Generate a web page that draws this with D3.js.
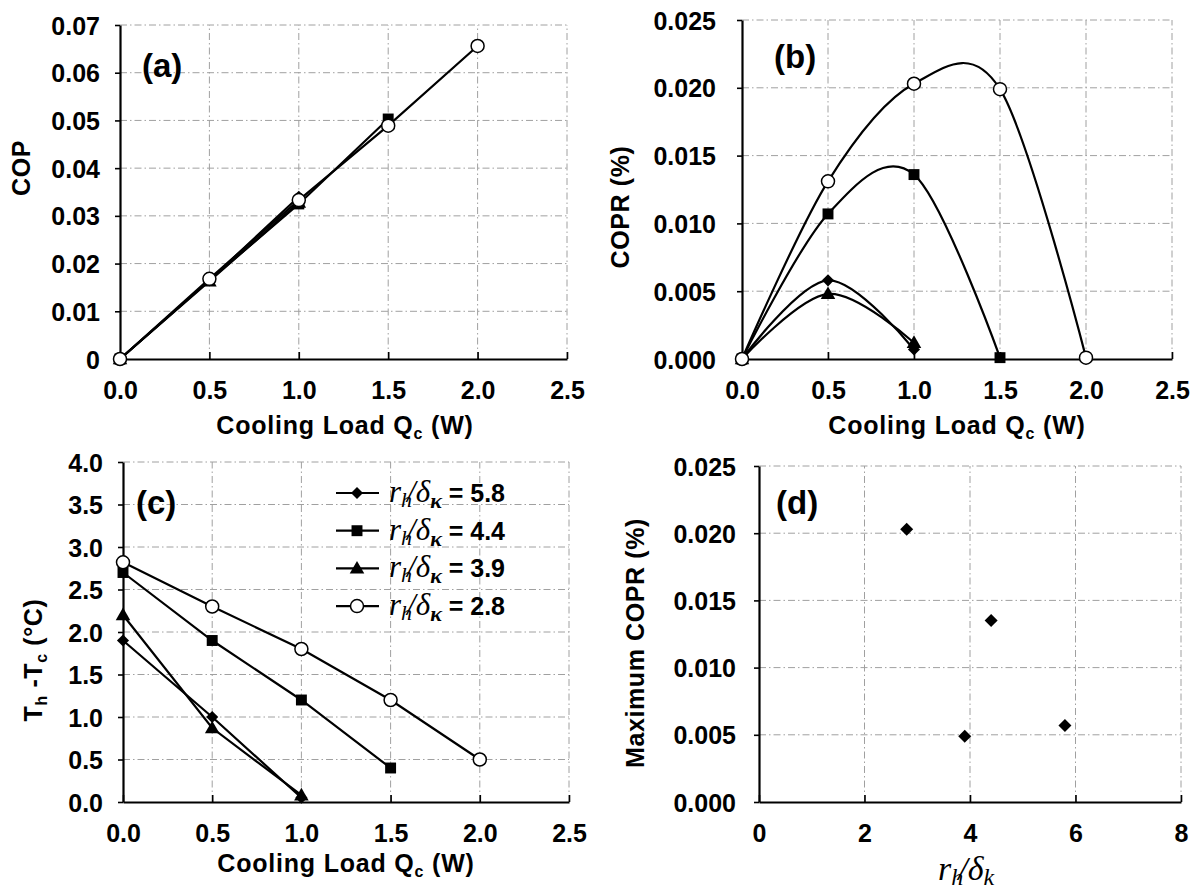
<!DOCTYPE html>
<html>
<head>
<meta charset="utf-8">
<script src="https://cdn.jsdelivr.net/npm/d3@7"></script>
<style>
  body { margin: 0; background: #fff; }
  svg { display: block; font-family: "Liberation Sans", Arial, sans-serif; font-weight: bold; }
</style>
</head>
<body>
<svg id="chart" width="1194" height="893"></svg>
<script>
// series order follows the legend: 5.8, 4.4, 3.9, 2.8
var ratioLabels = ["5.8", "4.4", "3.9", "2.8"];
var markerShapes = ["diamond", "square", "triangle", "circle"];
var qcLoads = [[0, 0.5, 1.0], [0, 0.5, 1.0, 1.5], [0, 0.5, 1.0], [0, 0.5, 1.0, 1.5, 2.0]];
var copValues = [[0, 0.0165, 0.034], [0, 0.0165, 0.0325, 0.0503], [0, 0.0163, 0.0328], [0, 0.0168, 0.0333, 0.0489, 0.0656]];
var coprValues = [[0, 0.0058, 0.0007], [0, 0.0107, 0.0136, 0.0001], [0, 0.0048, 0.0012], [0, 0.0131, 0.0203, 0.0199, 0.0001]];
var dTValues = [[1.9, 1.0, 0.05], [2.7, 1.9, 1.2, 0.4], [2.2, 0.87, 0.08], [2.82, 2.3, 1.8, 1.2, 0.5]];
var ratioValues = [5.8, 4.4, 3.9, 2.8];
var maxCopr = [0.0057, 0.0135, 0.0049, 0.0203];

var qcTicks = [0, 0.5, 1.0, 1.5, 2.0, 2.5];
var copTicks = [0, 0.01, 0.02, 0.03, 0.04, 0.05, 0.06, 0.07];
var coprTicks = [0, 0.005, 0.01, 0.015, 0.02, 0.025];
var dTTicks = [0, 0.5, 1.0, 1.5, 2.0, 2.5, 3.0, 3.5, 4.0];
var ratioTicks = [0, 2, 4, 6, 8];

var svg = d3.select("#chart");
var serif = "Liberation Serif, Times New Roman, serif";

function marker(g, shape, x, y, s) {
  if (shape == "circle") {
    g.append("circle").attr("cx", x).attr("cy", y).attr("r", s * 0.5)
      .attr("fill", "#fff").attr("stroke", "#000").attr("stroke-width", 1.5);
  } else {
    var sym = shape == "diamond" ? d3.symbolDiamond2 : shape == "square" ? d3.symbolSquare2 : d3.symbolTriangle2;
    var size = shape == "diamond" ? s * s * 0.55 : s * s * 0.9;
    g.append("path").attr("d", d3.symbol().type(sym).size(size)())
      .attr("transform", "translate(" + x + "," + (shape == "triangle" ? y + 1 : y) + ")")
      .attr("fill", "#000");
  }
}

function panel(p) {
  var x = d3.scaleLinear().domain(p.xDom).range(p.xr);
  var y = d3.scaleLinear().domain(p.yDom).range(p.yr);
  var g = svg.append("g");

  // grid, dash-dot grey
  g.append("g").selectAll("line").data(p.xTicks.slice(1)).enter().append("line")
    .attr("x1", d => x(d)).attr("x2", d => x(d)).attr("y1", p.yr[0]).attr("y2", p.yr[1])
    .attr("stroke", "#a0a0a0").attr("stroke-width", 1).attr("stroke-dasharray", "7,3,1.5,3");
  g.append("g").selectAll("line").data(p.yTicks.slice(1)).enter().append("line")
    .attr("x1", p.xr[0]).attr("x2", p.xr[1]).attr("y1", d => y(d)).attr("y2", d => y(d))
    .attr("stroke", "#a0a0a0").attr("stroke-width", 1).attr("stroke-dasharray", "7,3,1.5,3");

  var xa = g.append("g").attr("transform", "translate(0," + p.yr[0] + ")")
    .call(d3.axisBottom(x).tickValues(p.xTicks).tickFormat(p.xFmt).tickSizeInner(-7).tickSizeOuter(0).tickPadding(22));
  var ya = g.append("g").attr("transform", "translate(" + p.xr[0] + ",0)")
    .call(d3.axisLeft(y).tickValues(p.yTicks).tickFormat(p.yFmt).tickSizeInner(5).tickSizeOuter(0).tickPadding(p.yPad));
  [xa, ya].forEach(function(a) {
    a.select(".domain").attr("stroke", "#000").attr("stroke-width", 2.2);
    a.selectAll(".tick line").attr("stroke", "#000").attr("stroke-width", 1.6);
    a.selectAll("text").attr("fill", "#000").style("font-size", "25px")
      .style("font-family", "Liberation Sans, Arial, sans-serif").style("font-weight", "bold");
  });
  ya.selectAll("text").attr("dy", "0.36em");

  // panel label
  g.append("text").attr("x", p.lab[0]).attr("y", p.lab[1]).text(p.label)
    .style("font-size", "33px");

  return {g: g, x: x, y: y};
}

function xTitleQc(cx, cy) {
  var t = svg.append("text").attr("x", cx).attr("y", cy).attr("text-anchor", "middle")
    .style("font-size", "25px").style("letter-spacing", "0.8px");
  t.append("tspan").text("Cooling Load Q");
  t.append("tspan").text("c").attr("dy", 5).style("font-size", "16px");
  t.append("tspan").text(" (W)").attr("dy", -5);
}

function yTitle(cx, cy, parts) {
  var t = svg.append("text").attr("transform", "translate(" + cx + "," + cy + ") rotate(-90)")
    .attr("text-anchor", "middle").attr("dy", "0.36em").style("font-size", "25px").style("letter-spacing", "0.6px");
  parts.forEach(function(pt) {
    var s = t.append("tspan").text(pt[0]);
    if (pt[1]) s.attr("dy", pt[1]);
    if (pt[2]) s.style("font-size", pt[2]);
  });
}

function series(pn, xs, ys, smooth) {
  var line = d3.line().x(d => pn.x(d[0])).y(d => pn.y(d[1]))
    .curve(smooth ? d3.curveCardinal.tension(0) : d3.curveLinear);
  xs.forEach(function(xv, i) {
    var pts = xv.map((v, j) => [v, ys[i][j]]);
    pn.g.append("path").datum(pts).attr("d", line).attr("fill", "none")
      .attr("stroke", "#000").attr("stroke-width", 2.2);
  });
  xs.forEach(function(xv, i) {
    xv.forEach(function(v, j) {
      marker(pn.g, markerShapes[i], pn.x(v), pn.y(ys[i][j]), 13);
    });
  });
}

var f1 = d3.format(".1f"), f3 = d3.format(".3f");

// (a)
var pa = panel({xDom: [0, 2.5], yDom: [0, 0.07], xr: [120, 567], yr: [359, 25],
  xTicks: qcTicks, yTicks: copTicks, xFmt: f1, yFmt: d => d == 0 ? "0" : d3.format(".2f")(d),
  yPad: 15, label: "(a)", lab: [142, 77]});
series(pa, qcLoads, copValues, false);
xTitleQc(345, 434);
yTitle(21, 168, [["COP"]]);

// (b)
var pb = panel({xDom: [0, 2.5], yDom: [0, 0.025], xr: [742, 1172], yr: [359, 20],
  xTicks: qcTicks, yTicks: coprTicks, xFmt: f1, yFmt: f3,
  yPad: 21, label: "(b)", lab: [774, 68]});
series(pb, qcLoads, coprValues, true);
xTitleQc(957, 434);
yTitle(620, 207, [["COPR (%)"]]);

// (c)
var pc = panel({xDom: [0, 2.5], yDom: [0, 4], xr: [123, 569], yr: [802, 462],
  xTicks: qcTicks, yTicks: dTTicks, xFmt: f1, yFmt: f1,
  yPad: 15, label: "(c)", lab: [136, 514]});
series(pc, qcLoads, dTValues, false);
xTitleQc(346, 872);
yTitle(33, 660, [["T"], ["h", 5, "16px"], [" -T", -5], ["c", 5, "16px"], [" (°C)", -5]]);

// legend in (c)
ratioLabels.forEach(function(lbl, i) {
  var cy = 493 + i * 37.7;
  pc.g.append("line").attr("x1", 336).attr("x2", 379).attr("y1", cy).attr("y2", cy)
    .attr("stroke", "#000").attr("stroke-width", 2.2);
  marker(pc.g, markerShapes[i], 357, cy, 13);
  var t = pc.g.append("text").attr("x", 389).attr("y", cy + 9)
    .style("font-family", serif).style("font-style", "italic").style("font-weight", "normal");
  t.append("tspan").text("r").style("font-size", "31px");
  t.append("tspan").text("h").attr("dy", 5).style("font-size", "22px");
  t.append("tspan").text("/").attr("dx", -5).attr("dy", -5).style("font-size", "31px");
  t.append("tspan").text("δ").style("font-size", "31px");
  t.append("tspan").text("κ").attr("dy", 6).style("font-size", "22px").style("font-weight", "bold");
  t.append("tspan").text(" = " + lbl).attr("dy", -6).style("font-size", "25px")
    .style("font-family", "Liberation Sans, Arial, sans-serif").style("font-style", "normal").style("font-weight", "bold");
});

// (d)
var pd = panel({xDom: [0, 8], yDom: [0, 0.025], xr: [759, 1181], yr: [802, 466],
  xTicks: ratioTicks, yTicks: coprTicks, xFmt: d3.format("d"), yFmt: f3,
  yPad: 18, label: "(d)", lab: [776, 514]});
ratioValues.forEach(function(r, i) {
  marker(pd.g, "diamond", pd.x(r), pd.y(maxCopr[i]), 14);
});
yTitle(635, 643, [["Maximum COPR (%)"]]);
var td = svg.append("text").attr("x", 938).attr("y", 880)
  .style("font-family", serif).style("font-style", "italic").style("font-weight", "normal");
td.append("tspan").text("r").style("font-size", "34px");
td.append("tspan").text("h").attr("dy", 5).style("font-size", "24px");
td.append("tspan").text("/").attr("dx", -5).attr("dy", -5).style("font-size", "34px");
td.append("tspan").text("δ").style("font-size", "34px");
td.append("tspan").text("k").attr("dy", 5).style("font-size", "24px");
</script>
</body>
</html>
